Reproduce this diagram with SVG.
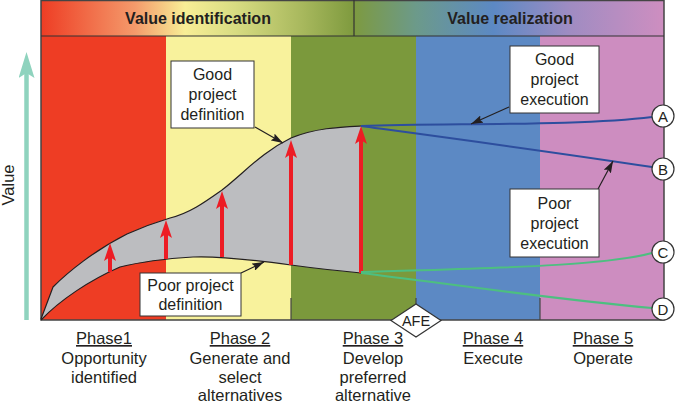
<svg xmlns="http://www.w3.org/2000/svg" width="676" height="405" viewBox="0 0 676 405">
<defs>
<linearGradient id="gL" x1="41" y1="0" x2="354" y2="0" gradientUnits="userSpaceOnUse">
<stop offset="0" stop-color="#EE3D24"/>
<stop offset="0.3" stop-color="#F49A6B"/>
<stop offset="0.46" stop-color="#F8EE96"/>
<stop offset="0.62" stop-color="#D8DC82"/>
<stop offset="0.83" stop-color="#A9B95E"/>
<stop offset="1" stop-color="#7E9A3E"/>
</linearGradient>
<linearGradient id="gR" x1="354" y1="0" x2="664" y2="0" gradientUnits="userSpaceOnUse">
<stop offset="0" stop-color="#7D9A40"/>
<stop offset="0.2" stop-color="#6C9A8A"/>
<stop offset="0.45" stop-color="#5C89C4"/>
<stop offset="0.7" stop-color="#A08CC2"/>
<stop offset="1" stop-color="#CE8EC0"/>
</linearGradient>
<marker id="mRed" viewBox="0 0 18 12" refX="5" refY="6" markerWidth="18" markerHeight="12" markerUnits="userSpaceOnUse" orient="auto">
<path d="M0,0 L18,6 L0,12 L4,6 Z" fill="#ED1C24"/>
</marker>
<marker id="mBlk" viewBox="0 0 12 8" refX="12" refY="4" markerWidth="12" markerHeight="8" markerUnits="userSpaceOnUse" orient="auto">
<path d="M0,0 L12,4 L0,8 L2,4 Z" fill="#231F20"/>
</marker>
<marker id="mTeal" viewBox="0 0 26 16" refX="6" refY="8" markerWidth="26" markerHeight="16" markerUnits="userSpaceOnUse" orient="auto">
<path d="M0,0 L26,8 L0,16 L5,8 Z" fill="#8FD3BE"/>
</marker>
<style>
.t{font-family:"Liberation Sans",Arial,sans-serif;fill:#231F20;text-anchor:middle}
.lbl{font-size:16px}
.ph{font-size:16.5px}
.hd{font-size:16px;font-weight:bold}
.box{fill:#fff;stroke:#333;stroke-width:1}
.ptr{stroke:#231F20;stroke-width:1.2;fill:none;marker-end:url(#mBlk)}
.red{stroke:#ED1C24;stroke-width:4;fill:none;marker-end:url(#mRed)}
.blue{stroke:#2D4E9E;stroke-width:2;fill:none}
.green{stroke:#4DBF80;stroke-width:2;fill:none}
.circ{fill:#fff;stroke:#333;stroke-width:1.2}
</style>
</defs>

<g id="background">
<rect x="41" y="0" width="313" height="36" fill="url(#gL)"/>
<rect x="354" y="0" width="310" height="36" fill="url(#gR)"/>
<rect x="41" y="36" width="125" height="284" fill="#EE3D24"/>
<rect x="166" y="36" width="125" height="284" fill="#F8F29C"/>
<rect x="291" y="36" width="125" height="284" fill="#7B993C"/>
<rect x="416" y="36" width="124" height="284" fill="#5C89C4"/>
<rect x="540" y="36" width="124" height="284" fill="#CD8DC0"/>
<rect x="41" y="0.5" width="623" height="319.5" fill="none" stroke="#444" stroke-width="1.5"/>
<line x1="41" y1="36" x2="664" y2="36" stroke="#333" stroke-width="1.2"/>
<line x1="354" y1="0" x2="354" y2="36" stroke="#333" stroke-width="1.2"/>
<line x1="291" y1="298" x2="291" y2="320" stroke="#444" stroke-width="1.2"/>
<line x1="540" y1="298" x2="540" y2="320" stroke="#444" stroke-width="1.2"/>
<line x1="416" y1="298" x2="416" y2="305" stroke="#444" stroke-width="1.2"/>
<text class="t hd" x="198" y="24">Value identification</text>
<text class="t hd" x="510" y="24">Value realization</text>
</g>

<g id="axis">
<line x1="26.5" y1="320" x2="26.5" y2="72" stroke="#8FD3BE" stroke-width="4.5" marker-end="url(#mTeal)"/>
<text class="t ph" transform="translate(14,185) rotate(-90)">Value</text>
</g>

<g id="band">
<path d="M41,319 L53,287 C68,272 95,250 127,234 C145,226 160,221 170,218 C190,213 205,202 222,190 C245,172 262,152 291,138 C315,128 340,127 361,126 L361,273 C340,271 320,269 291,265 C240,258 215,256 193,257 C160,259 140,262 120,267 C90,280 60,300 41,320 Z" fill="#BCBDC0"/>
<path d="M41,319 L53,287 C68,272 95,250 127,234 C145,226 160,221 170,218 C190,213 205,202 222,190 C245,172 262,152 291,138 C315,128 340,127 361,126" fill="none" stroke="#231F20" stroke-width="1.2"/>
<path d="M41,320 C60,300 90,280 120,267 C140,262 160,259 193,257 C215,256 240,258 291,265 C320,269 340,271 361,273" fill="none" stroke="#231F20" stroke-width="1.2"/>
</g>

<g id="connectors">
<line class="red" x1="110" y1="272" x2="110" y2="256"/>
<line class="red" x1="166" y1="259" x2="166" y2="233"/>
<line class="red" x1="222" y1="257" x2="222" y2="204"/>
<line class="red" x1="291" y1="265" x2="291" y2="153"/>
<line class="red" x1="361" y1="273" x2="361" y2="139"/>
<path class="blue" d="M361,126 C450,123 580,126 652,117"/>
<path class="blue" d="M361,126 C420,134 540,150 652,167"/>
<path class="green" d="M361,272 C480,268 600,267 652,253"/>
<path class="green" d="M361,273 C450,284 560,300 652,308"/>
<line class="ptr" x1="255" y1="127" x2="283" y2="143"/>
<line class="ptr" x1="509" y1="107" x2="471" y2="124"/>
<line class="ptr" x1="598" y1="189" x2="613" y2="161"/>
<line class="ptr" x1="241" y1="273" x2="264" y2="262"/>
</g>

<g id="label-good-definition">
<rect class="box" x="171" y="61" width="83" height="67"/>
<text class="t lbl" x="212.5" y="80">Good</text>
<text class="t lbl" x="212.5" y="100">project</text>
<text class="t lbl" x="212.5" y="120">definition</text>
</g>
<g id="label-good-execution">
<rect class="box" x="510" y="46" width="89" height="67"/>
<text class="t lbl" x="554.5" y="65">Good</text>
<text class="t lbl" x="554.5" y="85">project</text>
<text class="t lbl" x="554.5" y="105">execution</text>
</g>
<g id="label-poor-execution">
<rect class="box" x="510" y="189" width="89" height="68"/>
<text class="t lbl" x="554.5" y="209">Poor</text>
<text class="t lbl" x="554.5" y="229">project</text>
<text class="t lbl" x="554.5" y="249">execution</text>
</g>
<g id="label-poor-definition">
<rect class="box" x="140" y="273" width="101" height="43"/>
<text class="t lbl" x="190.5" y="291">Poor project</text>
<text class="t lbl" x="190.5" y="310">definition</text>
</g>

<g id="node-A"><circle class="circ" cx="663" cy="116" r="11"/><text class="t" x="663" y="121.5" font-size="15">A</text></g>
<g id="node-B"><circle class="circ" cx="663" cy="169" r="11"/><text class="t" x="663" y="174.5" font-size="15">B</text></g>
<g id="node-C"><circle class="circ" cx="663" cy="252" r="11"/><text class="t" x="663" y="257.5" font-size="15">C</text></g>
<g id="node-D"><circle class="circ" cx="663" cy="309" r="11"/><text class="t" x="663" y="314.5" font-size="15">D</text></g>

<g id="node-AFE">
<polygon points="416,304 441,320.5 416,337 391,320.5" fill="#fff" stroke="#333" stroke-width="1.2"/>
<text class="t" x="416" y="326" font-size="14.5">AFE</text>
</g>

<g id="phase1">
<text class="t ph" x="104" y="344" text-decoration="underline">Phase1</text>
<text class="t ph" x="104" y="363.5">Opportunity</text>
<text class="t ph" x="104" y="383">identified</text>
</g>
<g id="phase2">
<text class="t ph" x="240" y="344" text-decoration="underline">Phase 2</text>
<text class="t ph" x="240" y="363.5">Generate and</text>
<text class="t ph" x="240" y="383">select</text>
<text class="t ph" x="240" y="401">alternatives</text>
</g>
<g id="phase3">
<text class="t ph" x="373" y="344" text-decoration="underline">Phase 3</text>
<text class="t ph" x="373" y="363.5">Develop</text>
<text class="t ph" x="373" y="383">preferred</text>
<text class="t ph" x="373" y="401">alternative</text>
</g>
<g id="phase4">
<text class="t ph" x="493" y="344" text-decoration="underline">Phase 4</text>
<text class="t ph" x="493" y="363.5">Execute</text>
</g>
<g id="phase5">
<text class="t ph" x="603" y="344" text-decoration="underline">Phase 5</text>
<text class="t ph" x="603" y="363.5">Operate</text>
</g>
</svg>
